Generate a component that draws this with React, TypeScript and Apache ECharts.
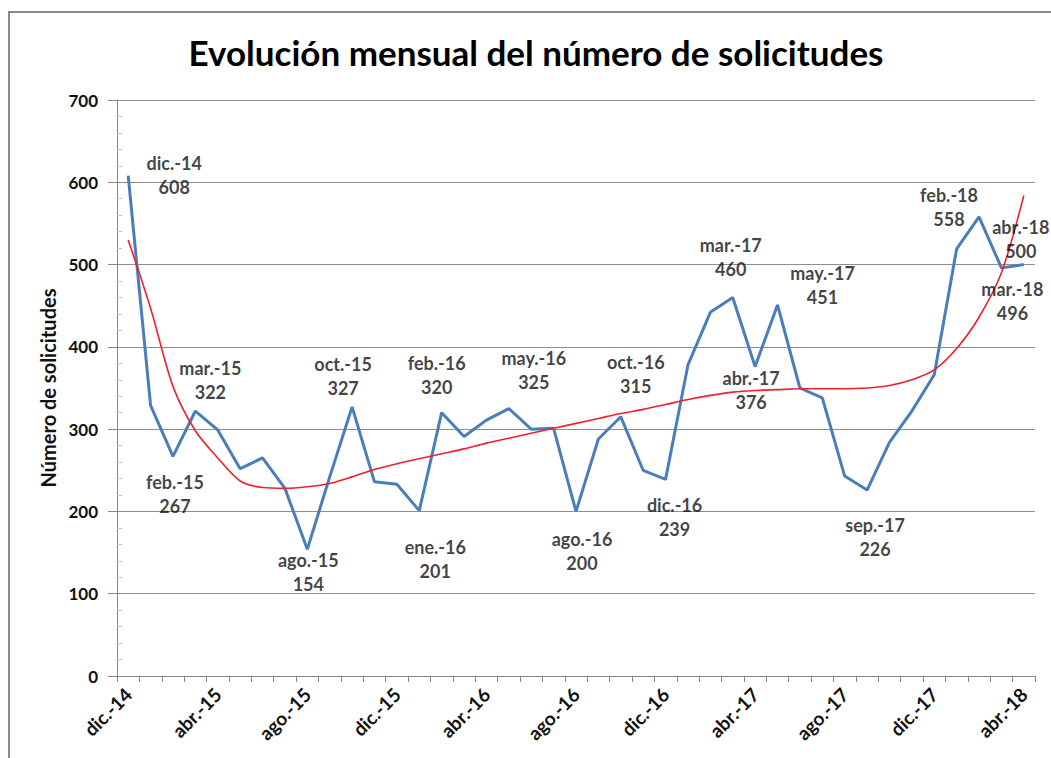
import React, { useEffect, useRef } from 'react';
import * as echarts from 'echarts';

const categories = [
  'dic.-14', 'ene.-15', 'feb.-15', 'mar.-15', 'abr.-15', 'may.-15', 'jun.-15', 'jul.-15', 'ago.-15', 'sep.-15',
  'oct.-15', 'nov.-15', 'dic.-15', 'ene.-16', 'feb.-16', 'mar.-16', 'abr.-16', 'may.-16', 'jun.-16', 'jul.-16',
  'ago.-16', 'sep.-16', 'oct.-16', 'nov.-16', 'dic.-16', 'ene.-17', 'feb.-17', 'mar.-17', 'abr.-17', 'may.-17',
  'jun.-17', 'jul.-17', 'ago.-17', 'sep.-17', 'oct.-17', 'nov.-17', 'dic.-17', 'ene.-18', 'feb.-18', 'mar.-18',
  'abr.-18',
];

const solicitudes = [
  608, 329, 267, 322, 299, 252, 265, 228, 154, 242,
  327, 236, 233, 201, 320, 291, 311, 325, 300, 301,
  200, 288, 315, 250, 239, 378, 442, 460, 376, 451,
  350, 338, 243, 226, 284, 322, 366, 519, 558, 496,
  500,
];

const tendencia = [
  530, 447, 352, 298, 265, 237, 229, 228, 230, 234,
  242, 251, 258, 264, 270, 276, 283, 289, 295, 301,
  307, 313, 319, 324, 330, 336, 341, 345, 347, 348,
  349, 349, 349, 350, 353, 360, 372, 398, 436, 490,
  584,
];

const labeledMonths = [
  'dic.-14', 'feb.-15', 'mar.-15', 'ago.-15', 'oct.-15', 'ene.-16', 'feb.-16', 'may.-16', 'ago.-16',
  'oct.-16', 'dic.-16', 'mar.-17', 'abr.-17', 'may.-17', 'sep.-17', 'feb.-18', 'mar.-18', 'abr.-18',
];

const yTicks = [0, 100, 200, 300, 400, 500, 600, 700];

// label placement (styling only): offset of label block centre from the point
const labelOffsets: Record<string, [number, number]> = {
  'dic.-14': [46, -1],
  'feb.-15': [2, 38],
  'mar.-15': [15, -31],
  'ago.-15': [1, 23],
  'oct.-15': [-9, -31],
  'ene.-16': [16, 48],
  'feb.-16': [-5, -38],
  'may.-16': [25, -39],
  'ago.-16': [6, 40],
  'oct.-16': [15, -43],
  'dic.-16': [9, 38],
  'mar.-17': [-2, -40],
  'abr.-17': [-4, 23],
  'may.-17': [45, -20],
  'sep.-17': [8, 47],
  'feb.-18': [-30, -10],
  'mar.-18': [11, 33],
  'abr.-18': [-3, -26],
};

const FONT = 'Lato, "Open Sans", sans-serif';

export default function App() {
  const ref = useRef<HTMLDivElement>(null);

  useEffect(() => {
    document.body.style.margin = '0';
    if (!ref.current) return;
    const chart = echarts.init(ref.current, undefined, { renderer: 'svg' });
    const yMax = yTicks[yTicks.length - 1];
    const yStep = yTicks[1] - yTicks[0];

    const labelData = solicitudes.map((v, i) => {
      const name = categories[i];
      if (!labeledMonths.includes(name)) return '-';
      return {
        value: v,
        label: { offset: labelOffsets[name] || [0, 0] },
      };
    });

    chart.setOption({
      animation: false,
      textStyle: { fontFamily: FONT },
      graphic: [
        {
          type: 'rect',
          shape: { x: 9, y: 12, width: 1100, height: 800 },
          style: { fill: 'none', stroke: '#8a8a8a', lineWidth: 2 },
          silent: true,
        },
        {
          type: 'text',
          x: 536,
          y: 52,
          style: {
            text: 'Evolución mensual del número de solicitudes',
            fontFamily: FONT,
            fontWeight: 'bold',
            fontSize: 35,
            fill: '#000',
            textAlign: 'center',
            textVerticalAlign: 'middle',
          },
        },
      ],
      grid: { left: 117, right: 16, top: 100, bottom: 82 },
      xAxis: {
        type: 'category',
        data: categories,
        boundaryGap: true,
        axisLine: { lineStyle: { color: '#898989', width: 1 } },
        axisTick: { show: true, interval: 0, length: 6, lineStyle: { color: '#898989' } },
        axisLabel: {
          interval: 3,
          rotate: 45,
          margin: 15,
          fontFamily: FONT,
          fontWeight: 'bold',
          fontSize: 19,
          color: '#111',
        },
        splitLine: { show: false },
      },
      yAxis: [
        {
          type: 'value',
          min: 0,
          max: yMax,
          interval: yStep,
          name: 'Número de solicitudes',
          nameLocation: 'middle',
          nameGap: 56,
          nameRotate: 90,
          nameTextStyle: { fontFamily: FONT, fontWeight: 'bold', fontSize: 20, color: '#111' },
          axisLine: { show: true, lineStyle: { color: '#898989', width: 1 } },
          axisTick: { show: true, length: 9, lineStyle: { color: '#898989' } },
          axisLabel: { margin: 19, fontFamily: FONT, fontWeight: 'bold', fontSize: 17, color: '#111' },
          splitLine: { show: true, lineStyle: { color: '#8e8e8e', width: 1 } },
        },
        {
          type: 'value',
          min: 0,
          max: yMax,
          interval: yStep,
          position: 'left',
          axisLine: { show: false },
          axisTick: { show: false, inside: true },
          axisLabel: { show: false },
          splitLine: { show: false },
          minorTick: { show: true, splitNumber: 5, length: 5, lineStyle: { color: '#c4c4c4' } },
        },
      ],
      series: [
        {
          type: 'line',
          name: 'Solicitudes',
          data: solicitudes,
          symbol: 'none',
          lineStyle: { color: '#4A7EBB', width: 3 },
          z: 2,
        },
        {
          type: 'line',
          name: 'Tendencia',
          data: tendencia,
          symbol: 'none',
          smooth: 0.3,
          lineStyle: { color: '#F0202E', width: 1.6 },
          z: 3,
        },
        {
          type: 'scatter',
          name: 'Etiquetas',
          data: labelData,
          symbolSize: 1,
          itemStyle: { color: 'rgba(0,0,0,0)' },
          z: 4,
          label: {
            show: true,
            position: 'inside',
            formatter: (p: any) => `${categories[p.dataIndex]}\n${p.value}`,
            fontFamily: FONT,
            fontWeight: 'bold',
            fontSize: 18,
            lineHeight: 24,
            color: '#111',
            align: 'center',
            verticalAlign: 'middle',
          },
        },
      ],
    });

    return () => chart.dispose();
  }, []);

  return <div ref={ref} style={{ width: 1051, height: 758 }} />;
}
